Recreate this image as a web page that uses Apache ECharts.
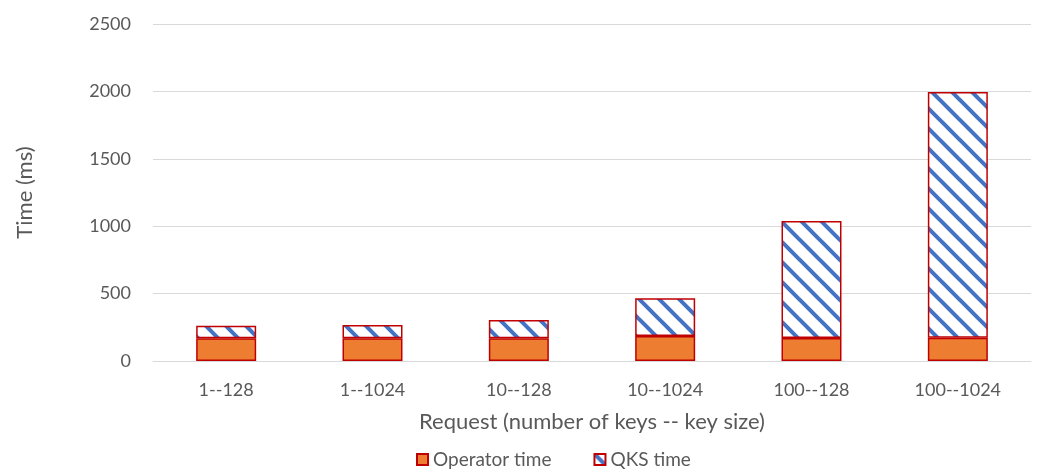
<!DOCTYPE html>
<html>
<head>
<meta charset="utf-8">
<script src="https://cdn.jsdelivr.net/npm/echarts@6/dist/echarts.min.js"></script>
<style>html,body{margin:0;padding:0;background:#fff;}#c{width:1049px;height:474px;}</style>
</head>
<body>
<div id="c"></div>
<script>
var categories = ['1--128', '1--1024', '10--128', '10--1024', '100--128', '100--1024'];
var operatorTime = [168, 168, 168, 185, 170, 173];
var qksTime = [94, 99, 136, 280, 868, 1822];
var yTicks = [0, 500, 1000, 1500, 2000, 2500];

function makeStripe() {
  var s = 20;
  var cv = document.createElement('canvas');
  cv.width = s; cv.height = s;
  var ctx = cv.getContext('2d');
  ctx.fillStyle = '#ffffff';
  ctx.fillRect(0, 0, s, s);
  ctx.strokeStyle = '#4472C4';
  ctx.lineWidth = 4;
  for (var k = -1; k <= 1; k++) {
    ctx.beginPath();
    ctx.moveTo(-2, -2 + k * s);
    ctx.lineTo(s + 2, s + 2 + k * s);
    ctx.stroke();
  }
  return cv;
}

var font = 'Lato, "Open Sans", sans-serif';
var chart = echarts.init(document.getElementById('c'));
chart.setOption({
  animation: false,
  textStyle: { fontFamily: font, color: '#595959' },
  grid: { left: 153, right: 18, top: 24, bottom: 113 },
  legend: {
    bottom: 0,
    left: 411,
    itemWidth: 11,
    itemHeight: 11,
    itemGap: 42,
    textStyle: { fontFamily: font, fontSize: 19, color: '#595959' },
    data: [
      { name: 'Operator time', icon: 'rect' },
      { name: 'QKS time', icon: 'rect' }
    ]
  },
  xAxis: {
    type: 'category',
    data: categories,
    name: 'Request (number of keys -- key size)',
    nameLocation: 'middle',
    nameGap: 50,
    nameTextStyle: { fontFamily: font, fontSize: 22, color: '#595959' },
    axisLine: { lineStyle: { color: '#d9d9d9', width: 1 } },
    axisTick: { show: false },
    axisLabel: { fontFamily: font, fontSize: 18, color: '#595959', margin: 20 }
  },
  yAxis: {
    type: 'value',
    min: yTicks[0],
    max: yTicks[yTicks.length - 1],
    interval: 500,
    name: 'Time (ms)',
    nameLocation: 'middle',
    nameGap: 117,
    nameTextStyle: { fontFamily: font, fontSize: 22, color: '#595959' },
    axisLine: { show: false },
    axisTick: { show: false },
    splitLine: { lineStyle: { color: '#d9d9d9', width: 1 } },
    axisLabel: {
      fontFamily: font, fontSize: 18, color: '#595959', margin: 22,
      formatter: function (v) { return String(v); }
    }
  },
  series: [
    {
      name: 'Operator time',
      type: 'bar',
      stack: 'total',
      barWidth: '41%',
      data: operatorTime,
      itemStyle: { color: '#ED7D31', borderColor: '#C00000', borderWidth: 1.5 }
    },
    {
      name: 'QKS time',
      type: 'bar',
      stack: 'total',
      data: qksTime,
      itemStyle: {
        color: { image: makeStripe(), repeat: 'repeat' },
        borderColor: '#C00000',
        borderWidth: 1.5
      }
    }
  ]
});
</script>
</body>
</html>
